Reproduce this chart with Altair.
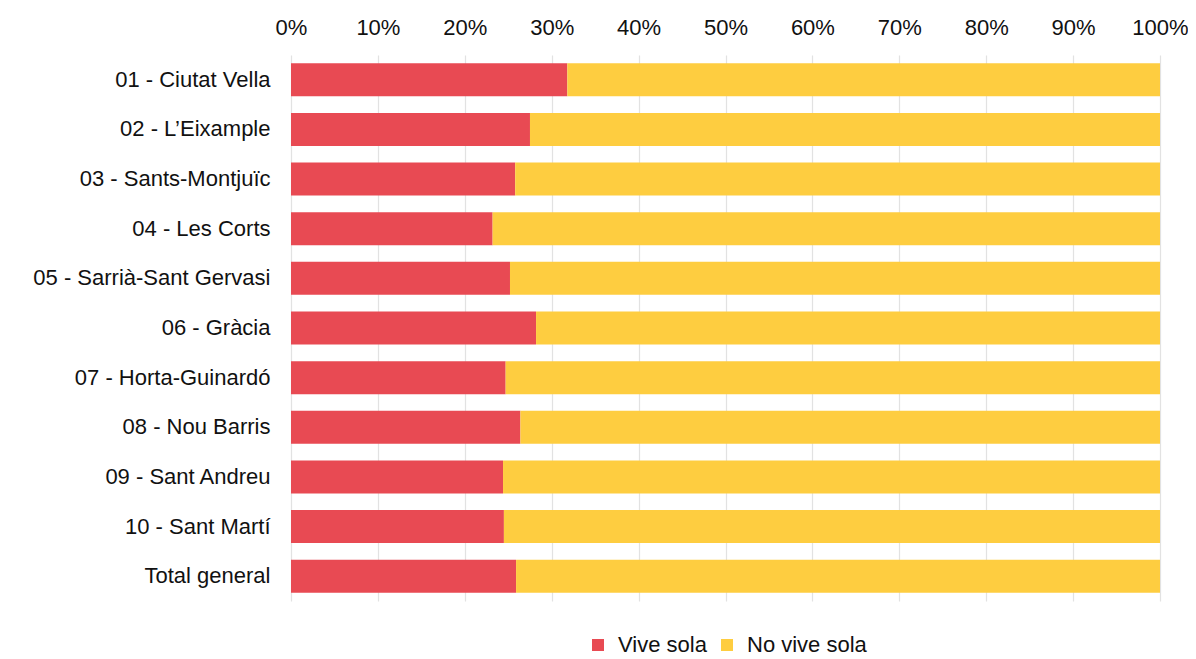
import altair as alt
import pandas as pd

districtes = [
    "01 - Ciutat Vella",
    "02 - L\u2019Eixample",
    "03 - Sants-Montju\u00efc",
    "04 - Les Corts",
    "05 - Sarri\u00e0-Sant Gervasi",
    "06 - Gr\u00e0cia",
    "07 - Horta-Guinard\u00f3",
    "08 - Nou Barris",
    "09 - Sant Andreu",
    "10 - Sant Mart\u00ed",
    "Total general",
]
vive_sola = [31.8, 27.5, 25.8, 23.2, 25.2, 28.2, 24.7, 26.4, 24.4, 24.5, 25.9]
no_vive_sola = [68.2, 72.5, 74.2, 76.8, 74.8, 71.8, 75.3, 73.6, 75.6, 75.5, 74.1]
series = ["Vive sola", "No vive sola"]
colors = ["#e84a53", "#fecd40"]
ticks = [i / 10 for i in range(11)]

rows = []
for d, v, n in zip(districtes, vive_sola, no_vive_sola):
    rows.append({"districte": d, "serie": series[0], "valor": v, "ordre": 0})
    rows.append({"districte": d, "serie": series[1], "valor": n, "ordre": 1})
df = pd.DataFrame(rows)

FONT = "Liberation Sans"

chart = (
    alt.Chart(df)
    .mark_bar()
    .encode(
        x=alt.X(
            "valor:Q",
            stack="normalize",
            scale=alt.Scale(domain=[0, 1], nice=False),
            axis=alt.Axis(
                orient="top",
                format=".0%",
                values=ticks,
                title=None,
                ticks=False,
                domain=False,
                labelPadding=16,
                labelFontSize=22,
                labelFont=FONT,
                labelColor="#111111",
                labelFlush=False,
                gridColor="#e2e2e2",
                gridWidth=1.2,
            ),
        ),
        y=alt.Y(
            "districte:N",
            sort=districtes,
            scale=alt.Scale(paddingInner=0.335, paddingOuter=0.1675),
            axis=alt.Axis(
                title=None,
                ticks=False,
                domain=False,
                grid=False,
                labelPadding=21,
                labelFontSize=22,
                labelFont=FONT,
                labelColor="#111111",
                labelLimit=400,
            ),
        ),
        color=alt.Color(
            "serie:N",
            scale=alt.Scale(domain=series, range=colors),
            sort=series,
            title=None,
            legend=alt.Legend(
                orient="none",
                legendX=296,
                legendY=579,
                direction="horizontal",
                symbolType="square",
                symbolSize=144,
                symbolStrokeWidth=0,
                labelFontSize=22,
                labelFont=FONT,
                labelColor="#111111",
                labelOffset=9,
                columnPadding=9,
            ),
        ),
        order=alt.Order("ordre:Q"),
    )
    .properties(
        width=869,
        height=546,
        autosize=alt.AutoSizeParams(type="none"),
        padding={"left": 283, "top": 47, "right": 28, "bottom": 58},
    )
    .configure_view(stroke=None)
)

chart.save("out.html", embed_options={"renderer": "svg", "actions": False})
